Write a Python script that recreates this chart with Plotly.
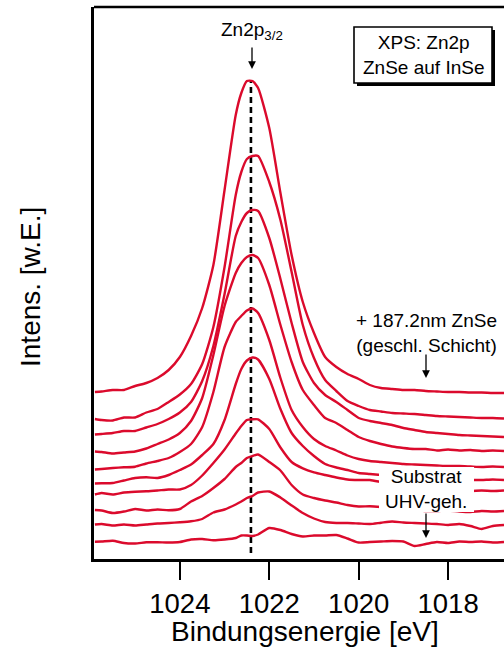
import plotly.graph_objects as go

# Binding energy grid [eV]
energy = [1025.9, 1025.75, 1025.5, 1025.25, 1025.0, 1024.75, 1024.5, 1024.25, 1024.0,
          1023.75, 1023.5, 1023.25, 1023.0, 1022.75, 1022.625, 1022.5, 1022.375, 1022.25,
          1022.0, 1021.75, 1021.5, 1021.25, 1021.0, 1020.75, 1020.5, 1020.25, 1020.0,
          1019.75, 1019.5, 1019.25, 1019.0, 1018.75, 1018.5, 1018.25, 1018.0, 1017.75,
          1017.5, 1017.25, 1017.0, 1016.75]

# Stacked spectra (arbitrary units, already offset), top (187.2 nm ZnSe) to bottom (substrate)
s01 = [167, 167.5, 169, 169, 173, 176, 181, 189, 202, 223, 251, 294, 369, 444, 466, 478, 478, 471,
       431, 366, 304, 257, 226, 202, 192, 185, 180, 174, 171, 170, 169, 169, 168, 167.5, 167, 167,
       166.5, 166.5, 166, 166]
s02 = [140, 139, 138.5, 141.5, 141.5, 146.5, 150, 157, 164.5, 175, 195, 232, 292, 364, 387, 400, 403,
       403, 377, 339, 287, 234, 201, 179, 168, 158, 153, 149, 147.5, 146, 145.5, 145, 144, 143, 142.5,
       142, 141.5, 141, 141, 140.5]
s03 = [124.5, 125, 126, 128, 128, 131.5, 135, 140, 146.5, 157, 178, 213, 265, 323, 337, 346, 349, 348,
       321, 280, 236, 197, 176, 164, 157, 149, 141, 138, 136, 134, 131, 129, 127, 126, 125, 124, 123.5,
       123, 122.5, 122]
s04 = [107.5, 107, 105.5, 106.5, 107.5, 110.5, 115, 119.5, 126, 138, 161, 204, 253, 286, 296, 302, 304,
       301, 274, 234, 197, 169, 154, 141, 136, 129, 122, 118, 115, 112.5, 111, 110, 110, 108.5, 109.5,
       108.5, 109, 108, 108.5, 108]
s05 = [89.5, 90, 91, 91.7, 92.3, 95.5, 98, 101, 107, 115, 132, 167, 212, 237, 243, 248.5, 250.5, 246,
       219, 181, 149, 132, 120, 113, 108.5, 103.5, 100, 98, 97, 96, 95, 94.5, 94, 93.5, 93, 93, 92.5,
       92, 92.5, 92]
s06 = [75.5, 75.7, 76, 78.5, 81, 81.7, 81, 84, 89, 94.5, 104, 115, 139, 175, 190, 198.5, 201.5, 199.5,
       180, 150, 126, 113, 103, 95, 91.5, 89, 86, 85, 84, 83, 82, 81.5, 81, 80.5, 80, 79.5, 79, 79,
       79.5, 79]
s07 = [64.5, 66, 64.5, 66.5, 67.3, 67.7, 68.5, 69.5, 69.5, 74, 83.5, 96, 109.5, 125.5, 133, 139, 139.7,
       139.7, 130, 111.5, 97, 90.7, 86.7, 84, 81.5, 79.5, 79, 79, 77, 75, 73, 72, 71, 70, 69, 68.5, 68,
       68.5, 68, 68.5]
s08 = [49, 48.5, 46, 47.5, 50, 48.5, 49.5, 48.7, 50, 57.5, 63, 71, 80, 92, 96, 101, 103, 104.5, 97,
       88.5, 74, 64.5, 61, 58.5, 56.5, 54, 52.5, 52.7, 52, 51, 50, 49, 48, 48, 48.5, 47.5, 47, 48,
       47.5, 48]
s09 = [34.5, 35, 33.5, 34.5, 33.5, 34.5, 35.5, 36, 36.7, 37.7, 40, 46.5, 49.5, 54.5, 57.5, 61, 63, 66.5,
       67.5, 61.5, 53.5, 46, 40.5, 37, 36, 36, 35.5, 35, 36.3, 37.5, 36.5, 36, 35.5, 35, 34, 35, 33,
       30, 33, 34]
s10 = [17.3, 17.5, 18.3, 16, 15.5, 16.7, 16.8, 16.5, 17, 19.5, 20, 18.7, 19.5, 21, 23.5, 23.5, 23, 24.5,
       31, 29, 25, 22.5, 23.5, 23.5, 24, 20.5, 16.5, 17, 17.5, 18, 17.5, 13, 15, 17, 16, 17.5, 17, 17.5,
       16.5, 17]
spectra = [s01, s02, s03, s04, s05, s06, s07, s08, s09, s10]

peak_energy = 1022.41
peak_line_y = [6, 478]
tick_vals = [1024, 1022, 1020, 1018]
tick_text = ["1024", "1022", "1020", "1018"]

RED = "#DB0A2C"
FONT = "Liberation Sans, Arial, Helvetica, sans-serif"

fig = go.Figure()
fig.add_trace(go.Scatter(x=[peak_energy, peak_energy], y=peak_line_y, mode="lines",
                         line=dict(color="black", width=2.6, dash="6px,4px"),
                         showlegend=False, hoverinfo="skip"))
for s in spectra:
    fig.add_trace(go.Scatter(x=energy, y=s, mode="lines",
                             line=dict(color=RED, width=2.4, shape="spline", smoothing=0.6),
                             showlegend=False, hoverinfo="skip"))

L, R, T, B = 94, 0, 7, 88
W, H = 504, 647
pw, ph = W - L - R, H - T - B

def px(x):
    return (x - L) / pw

def py(y):
    return (H - B - y) / ph

arrow = dict(showarrow=True, arrowhead=2, arrowsize=1.2, arrowwidth=1.3, arrowcolor="black",
             xref="paper", yref="paper", axref="pixel", ayref="pixel", text="")

fig.update_layout(
    width=W, height=H,
    margin=dict(l=L, r=R, t=T, b=B, pad=0),
    paper_bgcolor="white", plot_bgcolor="white",
    font=dict(family=FONT, color="black"),
    xaxis=dict(range=[1025.92, 1016.75], showgrid=False, zeroline=False,
               showline=True, linecolor="black", linewidth=2.6,
               ticks="outside", ticklen=18, tickwidth=2.4, tickcolor="black",
               tickvals=tick_vals, ticktext=tick_text,
               tickfont=dict(size=27.5, family=FONT, color="black")),
    yaxis=dict(range=[0, 552], showgrid=False, zeroline=False,
               showline=True, linecolor="black", linewidth=2.6,
               showticklabels=False, ticks=""),
    shapes=[
        dict(type="line", xref="paper", yref="paper", x0=0, x1=1, y0=1, y1=1,
             line=dict(color="black", width=2.6)),
        # shadow of the legend box
        dict(type="rect", xref="paper", yref="paper",
             x0=px(357), x1=px(495), y0=py(86), y1=py(30),
             fillcolor="black", line=dict(width=0), layer="above"),
        dict(type="rect", xref="paper", yref="paper",
             x0=px(354), x1=px(492), y0=py(83), y1=py(27),
             fillcolor="white", line=dict(color="black", width=1.6), layer="above"),
        # white backdrop behind the substrate label
        dict(type="rect", xref="paper", yref="paper",
             x0=px(379), x1=px(474), y0=py(512), y1=py(467),
             fillcolor="white", line=dict(width=0), layer="above"),
    ],
    annotations=[
        dict(x=px(423), y=py(55), xref="paper", yref="paper",
             text="XPS: Zn2p<br>ZnSe auf InSe", showarrow=False,
             font=dict(size=19, family=FONT), xanchor="center", yanchor="middle"),
        dict(x=px(252), y=py(31), xref="paper", yref="paper",
             text="Zn2p<sub>3/2</sub>", showarrow=False,
             xanchor="center", yanchor="middle", font=dict(size=19, family=FONT)),
        dict(arrow, x=px(252), y=py(69), ax=0, ay=-23),
        dict(x=px(426), y=py(333), xref="paper", yref="paper",
             text="+ 187.2nm ZnSe<br>(geschl. Schicht)", showarrow=False,
             xanchor="center", yanchor="middle", font=dict(size=19, family=FONT)),
        dict(arrow, x=px(426), y=py(378), ax=0, ay=-25),
        dict(x=px(426), y=py(489), xref="paper", yref="paper",
             text="Substrat<br>UHV-geh.", showarrow=False,
             xanchor="center", yanchor="middle", font=dict(size=19, family=FONT)),
        dict(arrow, x=px(426), y=py(538), ax=0, ay=-26),
        dict(x=px(304.5), y=0, xref="paper", yref="paper",
             text="Bindungsenergie [eV]", showarrow=False, yshift=-72,
             xanchor="center", yanchor="middle",
             font=dict(size=28, family=FONT)),
        dict(x=0, y=py(287), xref="paper", yref="paper",
             text="Intens. [w.E.]", showarrow=False, xshift=-64, textangle=-90,
             xanchor="center", yanchor="middle",
             font=dict(size=28, family=FONT)),
    ],
)

fig.write_html("out.html")
